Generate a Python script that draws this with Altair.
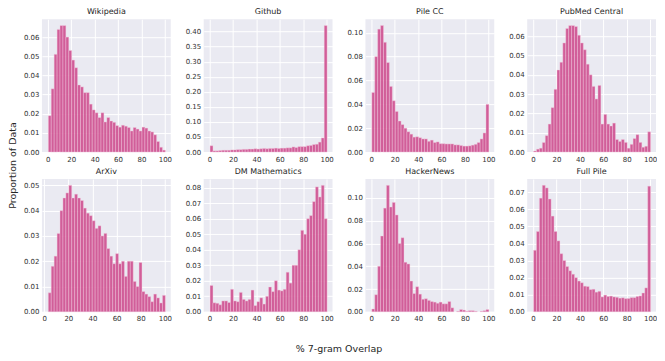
import altair as alt
import pandas as pd

names = ["Wikipedia", "Github", "Pile CC", "PubMed Central",
         "ArXiv", "DM Mathematics", "HackerNews", "Full Pile"]

wikipedia = [0.019, 0.033, 0.051, 0.064, 0.066, 0.066, 0.060, 0.053, 0.048, 0.044,
             0.035, 0.034, 0.031, 0.031, 0.025, 0.022, 0.0205, 0.018, 0.0205, 0.0157,
             0.018, 0.0162, 0.0155, 0.0138, 0.013, 0.014, 0.0135, 0.0128, 0.011, 0.0128,
             0.012, 0.011, 0.013, 0.0125, 0.011, 0.0105, 0.009, 0.0055, 0.0025, 0.001]
github = [0.021, 0.004, 0.004, 0.005, 0.006, 0.006, 0.006, 0.007, 0.007, 0.008,
          0.008, 0.009, 0.009, 0.010, 0.010, 0.011, 0.010, 0.011, 0.012, 0.011,
          0.012, 0.012, 0.013, 0.012, 0.013, 0.013, 0.014, 0.014, 0.017, 0.015,
          0.018, 0.018, 0.018, 0.021, 0.022, 0.025, 0.026, 0.033, 0.047, 0.42]
pile_cc = [0.050, 0.080, 0.103, 0.106, 0.092, 0.075, 0.055, 0.043, 0.034, 0.026,
           0.023, 0.020, 0.017, 0.015, 0.0125, 0.0128, 0.012, 0.011, 0.011, 0.009,
           0.010, 0.008, 0.0085, 0.007, 0.007, 0.0068, 0.0068, 0.0068, 0.006, 0.006,
           0.0055, 0.005, 0.005, 0.0052, 0.0058, 0.0065, 0.008, 0.011, 0.016, 0.040]
pubmed = [0.0005, 0.0015, 0.002, 0.005, 0.0085, 0.0145, 0.023, 0.0325, 0.0425, 0.0465,
          0.0565, 0.064, 0.0655, 0.0655, 0.065, 0.0605, 0.0565, 0.053, 0.0455, 0.040,
          0.034, 0.0275, 0.0345, 0.0145, 0.0195, 0.0145, 0.0135, 0.015, 0.0065, 0.0055,
          0.0065, 0.005, 0.002, 0.004, 0.007, 0.009, 0.005, 0.0025, 0.003, 0.0105]
arxiv = [0.0075, 0.018, 0.022, 0.031, 0.040, 0.045, 0.047, 0.050, 0.045, 0.0465,
         0.045, 0.044, 0.041, 0.039, 0.038, 0.036, 0.033, 0.034, 0.030, 0.031,
         0.025, 0.022, 0.019, 0.023, 0.019, 0.020, 0.014, 0.020, 0.020, 0.012,
         0.010, 0.0195, 0.008, 0.007, 0.006, 0.004, 0.007, 0.0055, 0.0035, 0.0065]
dm_math = [0.017, 0.0058, 0.0055, 0.0045, 0.007, 0.007, 0.006, 0.0145, 0.007, 0.0065,
           0.0125, 0.008, 0.007, 0.008, 0.014, 0.004, 0.0065, 0.009, 0.005, 0.010,
           0.016, 0.013, 0.020, 0.014, 0.0135, 0.0145, 0.0255, 0.0185, 0.030, 0.030,
           0.040, 0.0525, 0.050, 0.060, 0.062, 0.071, 0.0805, 0.074, 0.0815, 0.060]
hackernews = [0.0025, 0.015, 0.040, 0.0665, 0.091, 0.111, 0.092, 0.096, 0.085, 0.060,
              0.065, 0.0435, 0.042, 0.027, 0.016, 0.022, 0.0155, 0.011, 0.0115, 0.010,
              0.009, 0.0085, 0.0075, 0.0085, 0.007, 0.007, 0.009, 0.0035, 0.0, 0.0005,
              0.002, 0.0015, 0.0005, 0.001, 0.001, 0.0005, 0.0, 0.0005, 0.001, 0.002]
full_pile = [0.036, 0.047, 0.0665, 0.074, 0.0725, 0.066, 0.056, 0.047, 0.0415, 0.034,
             0.030, 0.0265, 0.024, 0.022, 0.020, 0.018, 0.017, 0.015, 0.0148, 0.013,
             0.0132, 0.0115, 0.012, 0.0087, 0.0098, 0.009, 0.0092, 0.0087, 0.0085, 0.008,
             0.0082, 0.0077, 0.0078, 0.0083, 0.0083, 0.009, 0.0093, 0.011, 0.014, 0.0735]

series = [wikipedia, github, pile_cc, pubmed, arxiv, dm_math, hackernews, full_pile]

# data range covered by the bins of each panel (% overlap)
bin_lo = [0, 0, 0, 0, 3, 0, 0, 0]
bin_hi = [100, 100, 100, 100, 100, 100, 100, 100]

y_ticks = [
    [0.00, 0.01, 0.02, 0.03, 0.04, 0.05, 0.06],
    [0.00, 0.05, 0.10, 0.15, 0.20, 0.25, 0.30, 0.35, 0.40],
    [0.00, 0.02, 0.04, 0.06, 0.08, 0.10],
    [0.00, 0.01, 0.02, 0.03, 0.04, 0.05, 0.06],
    [0.00, 0.01, 0.02, 0.03, 0.04, 0.05],
    [0.00, 0.01, 0.02, 0.03, 0.04, 0.05, 0.06, 0.07, 0.08],
    [0.00, 0.02, 0.04, 0.06, 0.08, 0.10],
    [0.00, 0.01, 0.02, 0.03, 0.04, 0.05, 0.06, 0.07],
]
x_ticks = [0, 20, 40, 60, 80, 100]

y_title = "Proportion of Data"
x_title = "% 7-gram Overlap"

W, H = 129, 133
COL_GAP, ROW_GAP = 33, 27
BAR = "#cf4f90"
FONT = "DejaVu Sans"


def panel(i):
    vals = series[i]
    n = len(vals)
    lo, hi = bin_lo[i], bin_hi[i]
    w = (hi - lo) / n
    df = pd.DataFrame({
        "start": [lo + k * w for k in range(n)],
        "end": [lo + (k + 1) * w for k in range(n)],
        "value": vals,
    })
    df = df[df["value"] > 0]
    pad = 0.05 * (hi - lo)
    ymax = max(vals) * 1.05
    bars = alt.Chart(df).mark_bar(
        color=BAR, opacity=0.9, binSpacing=0,
        stroke="#f4cde0", strokeWidth=0.5, strokeOpacity=0.8
    ).encode(
        x=alt.X("start:Q", bin="binned",
                scale=alt.Scale(domain=[lo - pad, hi + pad], nice=False, zero=False),
                axis=alt.Axis(values=x_ticks, format="d", title=None)),
        x2="end:Q",
        y=alt.Y("value:Q",
                scale=alt.Scale(domain=[0, ymax], nice=False, zero=True),
                axis=alt.Axis(values=y_ticks[i], format=".2f", title=None)),
        y2=alt.datum(0),
    )
    layers = [bars]
    if i == 0:
        total_h = 2 * H + ROW_GAP
        total_w = 4 * W + 3 * COL_GAP
        yt = alt.Chart(pd.DataFrame({"t": [y_title]})).mark_text(
            angle=270, fontSize=9.5, font=FONT, color="#262626", baseline="middle"
        ).encode(text="t:N", x=alt.value(-29), y=alt.value(total_h / 2))
        xt = alt.Chart(pd.DataFrame({"t": [x_title]})).mark_text(
            fontSize=9.5, font=FONT, color="#262626", baseline="middle"
        ).encode(text="t:N", x=alt.value(total_w / 2 - 10), y=alt.value(total_h + 37))
        layers += [yt, xt]
    return alt.layer(*layers).properties(width=W, height=H, title=names[i])


chart = alt.concat(
    *[panel(i) for i in range(8)],
    columns=4,
    spacing={"row": ROW_GAP, "column": COL_GAP},
    bounds="flush",
).properties(padding=0).configure_view(
    fill="#EAEAF2", stroke=None
).configure_axis(
    grid=True, gridColor="white", gridWidth=1, domain=False, ticks=False,
    labelFontSize=7, labelColor="#333333", labelFont=FONT, labelPadding=3
).configure_title(
    fontSize=8, font=FONT, color="#262626", fontWeight="normal", offset=3, anchor="middle"
)

chart.save("out.html", embed_options={"renderer": "svg", "actions": False})
